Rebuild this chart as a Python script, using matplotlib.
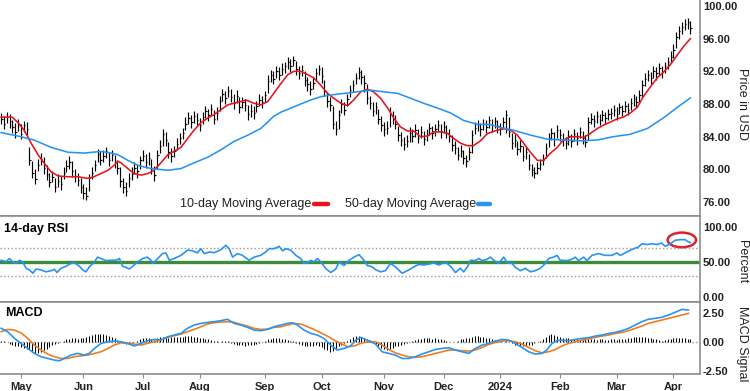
#!/usr/bin/env python
# -*- coding: utf-8 -*-

'''
Daily price bars with 10/50-day moving averages, 14-day RSI and MACD panels
'''

import numpy as np
import pandas as pd
import matplotlib
matplotlib.use('Agg')
import matplotlib.pyplot as plt
from matplotlib.patches import Ellipse

plt.rcParams['font.family'] = ['Liberation Sans', 'DejaVu Sans']

# trading days (weekdays minus US market holidays)
first_day = '2023-04-20'
last_day = '2024-04-09'
holidays = ['2023-05-29', '2023-06-19', '2023-07-04', '2023-09-04',
            '2023-11-23', '2023-12-25', '2024-01-01', '2024-01-15',
            '2024-02-19', '2024-03-29']
month_labels = ['May', 'Jun', 'Jul', 'Aug', 'Sep', 'Oct', 'Nov', 'Dec',
                '2024', 'Feb', 'Mar', 'Apr']

# price bars, one per trading day
close = [
    86.2, 85.6, 86.4, 85.9, 85.2, 84.6, 85.5, 84.3, 85.4, 84.9,
    81.2, 79.6, 78.8, 80.6, 81.3, 80.2, 79.4, 78.5, 79.1, 77.9,
    78.6, 78.2, 79.6, 80.4, 80.9, 79.8, 79.2, 78.7, 77.8, 77.1,
    76.8, 78.9, 79.6, 80.6, 81.9, 81.2, 81.6, 82.2, 81.1, 81.8,
    80.9, 80.2, 78.6, 77.8, 77.3, 78.9, 79.5, 80.2, 79.8, 81.1,
    81.7, 80.9, 81.4, 80.2, 79.3, 81.8, 82.9, 84.3, 83.6, 82.1,
    81.6, 82.3, 83.1, 83.8, 84.4, 85.6, 86.3, 85.8, 86.5, 86.1,
    85.4, 86.4, 87.1, 86.6, 87.4, 86.2, 86.9, 88.4, 89.2, 88.7,
    89.6, 88.9, 88.1, 89.0, 87.6, 88.3, 87.9, 86.8, 87.2, 86.9,
    87.8, 88.5, 88.2, 89.1, 90.8, 91.5, 91.1, 92.0, 91.6, 92.3,
    92.6, 93.1, 92.7, 93.4, 92.3, 91.8, 92.2, 91.0, 90.4, 89.9,
    90.6, 91.8, 92.3, 91.4, 89.6, 88.4, 87.9, 85.6, 84.9, 86.7,
    88.0, 87.3, 88.6, 89.7, 90.3, 91.2, 91.9, 91.3, 90.6, 88.7,
    88.1, 87.2, 87.6, 86.2, 85.4, 84.9, 85.1, 86.8, 86.2, 85.6,
    84.2, 83.6, 83.1, 83.5, 84.5, 84.1, 84.8, 83.9, 84.6, 83.7,
    84.2, 85.1, 84.4, 84.9, 85.4, 84.7, 85.2, 84.5, 84.1, 83.0,
    82.6, 81.8, 82.3, 81.4, 81.0, 82.1, 84.2, 85.1, 85.5, 84.9,
    85.6, 85.2, 86.0, 85.4, 85.9, 85.3, 84.9, 85.8, 86.7, 84.6,
    83.2, 83.6, 82.5, 82.9, 81.7, 82.1, 80.6, 79.9, 79.6, 80.2,
    80.7, 81.2, 82.6, 83.8, 84.4, 83.7, 84.8, 84.2, 83.6, 83.2,
    84.1, 83.5, 84.3, 83.8, 84.6, 83.9, 83.4, 85.8, 86.2, 85.9,
    86.5, 86.1, 86.7, 86.3, 86.8, 86.9, 87.3, 86.8, 87.6, 87.2,
    87.8, 87.3, 88.1, 88.6, 88.2, 89.1, 90.3, 91.1, 91.6, 91.2,
    92.0, 91.8, 92.4, 91.9, 92.6, 93.2, 93.8, 94.6, 96.2, 96.9,
    97.4, 97.8, 98.0, 97.3,
]
high = [
    86.9, 86.5, 87.0, 86.8, 86.1, 85.7, 86.2, 85.6, 85.9, 85.8,
    82.8, 81.0, 80.1, 81.3, 82.0, 81.5, 80.6, 79.6, 79.8, 79.0,
    79.5, 79.2, 80.3, 81.2, 81.6, 81.0, 80.0, 79.6, 78.9, 78.2,
    77.9, 79.4, 80.3, 81.2, 82.5, 82.3, 82.4, 82.8, 82.1, 82.4,
    81.8, 81.2, 80.3, 78.9, 78.4, 79.6, 80.3, 80.9, 80.7, 81.7,
    82.4, 81.9, 82.1, 81.3, 80.4, 82.4, 83.6, 85.0, 84.6, 83.3,
    82.6, 82.9, 83.8, 84.5, 85.1, 86.4, 87.0, 86.7, 87.1, 86.9,
    86.3, 87.0, 87.8, 87.4, 88.0, 87.3, 87.6, 89.0, 89.9, 89.6,
    90.2, 89.8, 89.2, 89.7, 88.9, 88.9, 88.6, 87.9, 88.0, 87.7,
    88.4, 89.2, 89.0, 89.6, 91.5, 92.2, 92.0, 92.6, 92.5, 93.0,
    93.2, 93.7, 93.5, 93.9, 93.3, 92.6, 92.8, 92.1, 91.3, 90.8,
    91.3, 92.4, 92.8, 92.5, 91.0, 89.5, 88.8, 87.7, 85.9, 87.3,
    88.6, 88.3, 89.2, 90.3, 91.0, 91.8, 92.5, 92.2, 91.5, 90.4,
    89.0, 88.3, 88.3, 87.4, 86.5, 85.8, 85.9, 87.6, 87.2, 86.6,
    85.3, 84.6, 84.0, 84.2, 85.2, 85.0, 85.5, 84.9, 85.3, 84.7,
    84.9, 85.7, 85.3, 85.6, 86.1, 85.5, 85.9, 85.4, 85.0, 84.2,
    83.5, 82.8, 83.0, 82.4, 81.8, 82.8, 84.8, 85.8, 86.1, 85.7,
    86.2, 86.0, 86.5, 86.2, 86.4, 86.1, 85.7, 86.4, 87.3, 86.4,
    84.4, 84.3, 83.5, 83.6, 82.9, 82.8, 81.9, 80.7, 80.3, 80.9,
    81.3, 81.9, 83.2, 84.5, 85.1, 84.6, 85.4, 85.0, 84.4, 84.0,
    84.8, 84.3, 84.9, 84.6, 85.2, 84.7, 84.2, 86.4, 86.9, 86.6,
    87.1, 86.8, 87.3, 87.0, 87.4, 87.5, 87.9, 87.6, 88.1, 87.9,
    88.4, 88.1, 88.7, 89.2, 89.0, 89.7, 91.0, 91.8, 92.2, 91.9,
    92.6, 92.5, 93.0, 92.6, 93.2, 93.8, 94.5, 95.4, 96.8, 97.5,
    98.0, 98.4, 98.5, 98.2,
]
low = [
    85.5, 85.0, 85.7, 85.1, 84.5, 83.9, 84.7, 83.7, 84.6, 84.2,
    80.6, 79.0, 78.2, 79.8, 80.5, 79.5, 78.7, 77.8, 78.4, 77.2,
    77.9, 77.5, 78.8, 79.7, 80.1, 79.1, 78.5, 78.0, 77.1, 76.4,
    76.2, 77.4, 78.8, 79.8, 80.9, 80.5, 80.9, 81.4, 80.4, 81.0,
    80.2, 79.5, 77.9, 77.1, 76.7, 77.8, 78.7, 79.4, 79.0, 80.1,
    81.0, 80.2, 80.6, 79.5, 78.6, 80.0, 82.0, 82.9, 82.9, 81.4,
    80.9, 81.5, 82.4, 83.1, 83.7, 84.8, 85.6, 85.1, 85.7, 85.4,
    84.7, 85.5, 86.3, 85.9, 86.6, 85.5, 86.1, 87.2, 88.4, 88.0,
    88.8, 88.2, 87.4, 88.1, 86.9, 87.5, 87.2, 86.1, 86.4, 86.2,
    87.0, 87.8, 87.5, 88.3, 89.3, 90.7, 90.4, 91.2, 90.9, 91.5,
    91.8, 92.3, 91.9, 92.6, 91.6, 91.1, 91.4, 90.2, 89.6, 89.1,
    89.8, 90.8, 91.6, 90.6, 89.0, 87.6, 87.1, 84.9, 84.2, 85.0,
    86.9, 86.6, 87.8, 88.9, 89.5, 90.4, 91.1, 90.5, 89.5, 88.0,
    87.4, 86.5, 86.8, 85.5, 84.7, 84.1, 84.3, 85.2, 85.5, 84.9,
    83.5, 82.9, 82.4, 82.7, 83.3, 83.4, 84.0, 83.2, 83.8, 83.0,
    83.5, 84.2, 83.7, 84.1, 84.6, 83.9, 84.4, 83.8, 83.3, 82.3,
    81.9, 81.1, 81.5, 80.7, 80.3, 81.2, 82.0, 84.3, 84.7, 84.1,
    84.8, 84.4, 85.1, 84.6, 85.1, 84.5, 84.2, 84.9, 84.5, 84.0,
    82.5, 82.7, 81.8, 82.1, 81.0, 81.3, 79.9, 79.2, 78.9, 79.5,
    79.9, 80.5, 81.4, 82.7, 83.6, 82.9, 83.8, 83.5, 82.9, 82.5,
    83.0, 82.8, 83.5, 83.0, 83.8, 83.1, 82.8, 83.6, 85.5, 85.2,
    85.7, 85.4, 85.9, 85.6, 86.0, 86.2, 86.5, 86.1, 86.8, 86.5,
    87.0, 86.6, 87.3, 87.8, 87.5, 88.2, 88.8, 90.2, 90.8, 90.4,
    91.2, 91.0, 91.6, 91.2, 91.8, 92.3, 93.0, 93.6, 94.8, 96.0,
    96.6, 97.0, 97.2, 96.6,
]

# moving averages, read at trading-day positions
ma10_day = [0, 3.9, 6, 8.1, 10.6, 13, 15.1, 17.6, 20.1, 23.6,
            27.1, 30.6, 32.7, 35.2, 37.7, 39.8, 41.2, 42.3, 44.7, 46.8,
            49.3, 51.8, 53.9, 56.3, 58.8, 60.9, 63.4, 65.8, 68, 70.4,
            72.9, 75, 77.5, 79.9, 82, 84.5, 86.3, 89.1, 91.5, 94,
            96.1, 98.6, 101.1, 103.2, 105.6, 108.1, 110.2, 112.7, 115.1, 117.3,
            119.7, 122.2, 124.3, 126.8, 129.2, 131.3, 133.8, 136.3, 138.4, 140.8,
            143.3, 145.4, 147.9, 150.4, 152.5, 154.9, 157.4, 159.5, 162, 164.4,
            166.5, 169, 171.5, 175, 177.1, 179.6, 182, 184.2, 186.6, 189.1,
            191.2, 193.7, 196.1, 198.2, 200.7, 203.2, 205.3, 207.7, 210.2, 212.3,
            214.8, 217.3, 219.4, 221.8, 224.3, 226.4, 228.9, 231.3, 233.5, 235.9,
            238.4, 240.5, 243]
ma10 = [86.4, 86.4, 85.7, 84.8, 83.2, 81.8, 80.8, 79.7, 79.2, 79.1,
        79.1, 78.9, 79.1, 79.5, 79.9, 80.5, 81.0, 80.8, 80.1, 79.5,
        79.3, 79.5, 79.9, 80.8, 81.8, 82.2, 82.7, 83.8, 84.8, 85.7,
        86.3, 86.7, 87.3, 87.9, 88.1, 88.3, 88.5, 88.1, 87.9, 88.3,
        89.3, 90.5, 91.6, 92.0, 92.0, 91.6, 91.2, 90.3, 89.3, 88.7,
        88.1, 87.8, 88.5, 89.5, 89.8, 89.5, 88.7, 87.5, 86.3, 85.2,
        84.7, 84.7, 84.0, 84.1, 84.6, 84.6, 84.4, 83.8, 83.2, 82.9,
        82.9, 83.5, 84.4, 84.8, 85.0, 84.8, 84.2, 83.2, 82.1, 81.1,
        81.1, 82.0, 82.7, 83.6, 84.0, 84.0, 83.9, 84.4, 85.0, 85.4,
        85.8, 86.2, 86.4, 86.9, 87.6, 88.9, 90.1, 91.2, 91.9, 92.8,
        94.0, 95.0, 96.0]
ma50_day = [0, 7, 11.6, 17.6, 23.6, 29.2, 35.2, 38.7, 41.2, 44.7,
            48.2, 52.8, 58.8, 63.4, 68, 72.9, 77.5, 82, 87, 91.5,
            94, 96.1, 98.6, 102.1, 105.6, 109.2, 112.7, 116.2, 120.8, 125.7,
            130.3, 134.9, 139.8, 144.4, 148.9, 153.9, 158.5, 163, 168, 172.5,
            175, 180.6, 186.6, 192.6, 198.2, 204.2, 210.2, 215.8, 221.8, 227.8,
            233.5, 238.4, 243]
ma50 = [84.5, 84.0, 83.6, 82.7, 82.1, 82.0, 82.2, 82.0, 81.8, 81.1,
        80.5, 80.1, 79.9, 80.1, 80.8, 81.5, 82.4, 83.4, 84.2, 85.0,
        85.8, 86.5, 87.0, 87.5, 88.0, 88.5, 88.9, 89.1, 89.3, 89.5,
        89.7, 89.5, 89.3, 88.7, 88.1, 87.5, 86.9, 86.0, 85.5, 85.5,
        85.2, 84.8, 84.2, 83.7, 83.6, 83.5, 83.6, 84.0, 84.3, 85.0,
        86.3, 87.6, 88.75]

# 14-day RSI
rsi_day = [0, 1.8, 2.9, 4.1, 5.3, 6.5, 7.6, 8.8, 10.0, 11.2,
           12.3, 14.1, 15.8, 17.6, 18.8, 19.7, 21.1, 22.9, 24.6, 25.8,
           27.6, 28.8, 29.9, 31.1, 32.9, 34.0, 35.2, 37.0, 38.7, 40.5,
           41.7, 42.8, 44.0, 45.2, 46.4, 48.1, 49.9, 51.6, 52.8, 53.6,
           55.2, 56.9, 58.1, 59.3, 61.0, 63.4, 65.7, 67.5, 69.2, 70.4,
           71.6, 73.4, 75.1, 77.5, 79.2, 80.4, 81.6, 83.3, 85.1, 87.4,
           89.2, 91.5, 93.3, 94.5, 96.2, 98.0, 99.2, 100.4, 102.1, 103.9,
           105.6, 106.8, 108.0, 109.2, 110.3, 111.5, 112.7, 114.4, 116.2, 118.0,
           119.1, 120.9, 122.7, 124.4, 126.2, 127.9, 129.1, 130.9, 132.0, 133.8,
           135.5, 137.3, 139.0, 141.4, 143.7, 145.5, 147.3, 149.0, 150.8, 152.5,
           154.3, 156.6, 158.4, 160.2, 161.9, 163.1, 164.3, 165.5, 167.2, 168.4,
           169.6, 171.3, 172.5, 173.7, 175.4, 177.2, 178.4, 180.1, 181.3, 183.1,
           184.8, 186.6, 188.3, 190.1, 191.9, 193.0, 194.8, 196.0, 197.1, 199.5,
           201.2, 202.4, 203.6, 205.4, 206.5, 208.3, 210.6, 213.0, 215.3, 217.1,
           218.3, 220.6, 223.0, 224.7, 225.9, 227.7, 229.4, 231.2, 232.9, 234.1,
           235.9, 237.6, 239.4, 241.2, 242.3, 243]
rsi = [52.5, 50.5, 55, 50, 48, 52.5, 50, 41, 38.6, 34,
       40, 38.6, 36, 37.6, 39.5, 35, 41, 44, 48, 49,
       44, 38.6, 36, 43, 50, 57, 55, 52, 52.5, 52.5,
       55, 44, 42.4, 40, 44, 50, 55, 57, 52.5, 48,
       55, 62, 62.9, 52.5, 55, 59.5, 67, 66, 63, 69,
       62, 64.3, 63.3, 67.6, 73.8, 69, 57, 62, 59.5, 52.5,
       57, 59.5, 64.3, 69, 69, 72.4, 66, 69, 67, 59.5,
       55, 48, 49, 52.5, 50, 55, 50, 41, 35, 40,
       50, 45, 52.5, 57, 60.5, 52.5, 45, 43, 39, 36,
       37.6, 48, 43, 34, 38.6, 43, 46.7, 45.7, 47, 49,
       45.7, 50, 44, 35, 41, 36, 42.4, 52.5, 52, 55,
       52, 53.8, 57, 52.5, 48, 57, 49, 48, 42.4, 37.6,
       41, 36, 37.6, 41, 48, 55, 57, 59.5, 52.5, 52,
       53.8, 57, 52, 57, 52, 59.5, 62, 59.5, 59.5, 63,
       59.5, 64.3, 69, 71.4, 76, 75, 76, 75, 77, 72.4,
       76, 81, 81.9, 81.9, 78.6, 78]

# MACD line and signal line
macd_day = [0, 2.3, 4.7, 7.0, 9.4, 11.7, 14.1, 16.4, 18.8, 20.5,
            22.3, 24.6, 27.0, 29.3, 31.1, 32.9, 35.2, 37.6, 39.9, 42.3,
            44.6, 46.9, 49.3, 51.6, 54.0, 56.3, 58.7, 61.0, 63.4, 65.7,
            68.1, 70.4, 72.8, 75.1, 77.5, 79.8, 82.2, 84.5, 86.9, 89.2,
            91.5, 93.9, 96.2, 98.6, 100.9, 102.7, 104.5, 106.8, 109.2, 111.5,
            113.8, 116.2, 118.5, 120.9, 123.2, 125.0, 126.8, 129.1, 132.0, 134.3,
            136.7, 139.0, 141.4, 143.7, 146.1, 148.4, 150.8, 153.1, 155.5, 157.8,
            160.2, 162.5, 164.9, 167.2, 169.6, 171.9, 174.3, 176.6, 178.9, 181.3,
            183.6, 186.0, 188.3, 190.7, 192.4, 194.2, 196.0, 197.7, 200.1, 202.4,
            204.8, 207.1, 209.5, 211.8, 214.2, 216.5, 218.9, 221.2, 223.5, 225.9,
            228.2, 230.6, 232.9, 235.3, 237.6, 240.0, 242.3]
macd = [1.17, 0.87, 0.29, -0.14, -0.58, -1.01, -1.3, -1.45, -1.59, -1.65,
        -1.45, -1.16, -1.01, -1.16, -1.01, -0.58, -0.14, 0.0, 0.06, 0.0,
        -0.14, -0.37, -0.14, 0.09, 0.2, 0.14, 0.43, 0.58, 0.72, 1.17,
        1.45, 1.59, 1.68, 1.74, 1.83, 1.95, 1.59, 1.45, 1.25, 1.01,
        0.96, 1.07, 1.3, 1.45, 1.59, 1.65, 1.45, 1.01, 0.72, 0.58,
        0.29, -0.29, -0.72, -0.58, -0.37, 0.14, 0.38, 0.14, -0.2, -0.87,
        -1.01, -1.16, -1.45, -1.45, -1.3, -1.07, -0.87, -0.67, -0.58, -0.52,
        -0.72, -0.87, -1.01, -0.58, -0.29, -0.14, 0.06, 0.2, 0.14, -0.14,
        -0.49, -0.87, -1.07, -1.01, -0.72, -0.14, 0.09, 0.14, 0.09, 0.2,
        0.29, 0.35, 0.49, 0.58, 0.72, 0.81, 0.96, 1.16, 1.45, 1.74,
        1.95, 2.03, 2.12, 2.32, 2.55, 2.81, 2.75]
signal_day = [0, 2.3, 4.7, 7.0, 9.4, 11.7, 14.1, 16.4, 18.8, 21.1,
              23.5, 25.8, 28.2, 30.5, 32.9, 35.2, 37.6, 39.9, 42.3, 44.6,
              46.9, 49.3, 51.6, 54.0, 56.3, 58.7, 61.0, 63.4, 65.7, 68.1,
              70.4, 72.8, 75.1, 77.5, 79.8, 82.2, 84.5, 86.9, 89.2, 91.5,
              93.9, 96.2, 98.6, 100.9, 103.3, 105.6, 108.0, 110.3, 112.7, 115.0,
              117.4, 119.7, 122.1, 124.4, 126.8, 129.1, 132.0, 134.3, 136.7, 139.0,
              141.4, 143.7, 146.1, 148.4, 150.8, 153.1, 155.5, 157.8, 160.2, 162.5,
              164.9, 167.2, 169.6, 171.9, 174.3, 176.6, 178.9, 181.3, 183.6, 186.0,
              188.3, 190.7, 193.0, 195.4, 197.7, 200.1, 202.4, 204.8, 207.1, 209.5,
              211.8, 214.2, 216.5, 218.9, 221.2, 223.5, 225.9, 228.2, 230.6, 232.9,
              235.3, 237.6, 240.0, 242.3]
signal = [0.87, 1.07, 1.01, 0.78, 0.29, -0.29, -0.72, -1.07, -1.3, -1.45,
          -1.45, -1.3, -1.22, -1.16, -1.01, -0.87, -0.58, -0.29, -0.09, -0.14,
          -0.2, -0.29, -0.14, 0.0, 0.14, 0.38, 0.52, 0.67, 0.87, 1.07,
          1.3, 1.54, 1.65, 1.71, 1.74, 1.68, 1.51, 1.36, 1.16, 1.07,
          1.1, 1.25, 1.3, 1.45, 1.59, 1.54, 1.3, 1.07, 0.78, 0.49,
          0.14, -0.14, -0.43, -0.37, -0.14, 0.0, 0.0, -0.29, -0.67, -0.96,
          -1.16, -1.3, -1.36, -1.3, -1.16, -1.01, -0.87, -0.72, -0.72, -0.78,
          -0.81, -0.72, -0.49, -0.23, -0.06, 0.06, 0.09, 0.0, -0.2, -0.49,
          -0.78, -0.96, -0.87, -0.67, -0.37, -0.14, 0.0, 0.14, 0.23, 0.38,
          0.49, 0.58, 0.72, 0.81, 0.96, 1.16, 1.36, 1.59, 1.74, 1.88,
          2.03, 2.17, 2.32, 2.46]

# MACD histogram, one per trading day
hist = [
    0.1, 0.05, -0.05,
    -0.2, -0.3, -0.35, -0.4, -0.45,
    -0.55, -0.65, -0.75, -0.85,
    -0.95, -1.0, -0.9, -0.75,
    -0.6, -0.45, -0.3, -0.2, -0.1,
    0.0, 0.1, 0.2,
    0.25, 0.3, 0.3, 0.25, 0.3, 0.35, 0.4,
    0.5, 0.6, 0.65, 0.7, 0.7, 0.65, 0.6, 0.5, 0.4,
    0.3, 0.15, 0.0, -0.1, -0.2, -0.2,
    -0.15, -0.05, 0.1, 0.2,
    0.3, 0.35, 0.3, 0.2, 0.15, 0.3, 0.4, 0.45, 0.4,
    0.35, 0.4, 0.45, 0.45, 0.4, 0.45, 0.5,
    0.5, 0.5, 0.45, 0.4, 0.35, 0.3, 0.25,
    0.2, 0.15, 0.1, 0.05, 0.0, 0.05, 0.1, 0.05,
    -0.1, -0.2, -0.25, -0.3, -0.3, -0.35, -0.3, -0.3, -0.25, -0.2, -0.1, 0.0,
    0.1, 0.2, 0.25, 0.3, 0.3, 0.3, 0.25, 0.2, 0.15, 0.1, 0.05,
    -0.1, -0.2, -0.3, -0.35, -0.4, -0.4, -0.35, -0.3, -0.35, -0.45,
    -0.6, -0.75, -0.85, -0.8, -0.6, -0.4, -0.25,
    -0.1, 0.1, 0.25, 0.4, 0.5, 0.5, 0.45, 0.35, 0.25, 0.15, 0.0,
    -0.2, -0.4, -0.55, -0.65, -0.7, -0.6, -0.5, -0.4,
    -0.35, -0.3, -0.2, -0.1, 0.0, 0.1, 0.15,
    0.2, 0.25, 0.3, 0.3, 0.3, 0.25, 0.3, 0.25, 0.2,
    0.15, 0.1, 0.0, -0.05, 0.0, 0.1, 0.2, 0.25, 0.3,
    0.35, 0.45, 0.5, 0.5, 0.45, 0.4, 0.35, 0.3, 0.2, 0.15,
    0.1, 0.05, 0.0, 0.05, -0.05, -0.15, -0.25,
    -0.3, -0.35, -0.4, -0.35, -0.3, -0.25, -0.15, -0.05, 0.1, 0.25,
    0.45, 0.6, 0.65, 0.6, 0.5, 0.4, 0.35,
    0.3, 0.3, 0.25, 0.2, 0.2, 0.15, 0.15,
    0.2, 0.25, 0.2, 0.2, 0.15, 0.2, 0.2, 0.15, 0.15, 0.2, 0.2, 0.15, 0.2, 0.25, 0.25,
    0.3, 0.35, 0.4, 0.4, 0.45, 0.45, 0.4, 0.35, 0.3, 0.25, 0.2,
    0.15, 0.1, 0.15, 0.2, 0.25, 0.3, 0.35, 0.35, 0.3, 0.3, 0.25, 0.2,
]

RED = '#e8141c'
BLUE = '#2894f2'
ORANGE = '#f07d1e'
GREEN = '#3c8c3c'
FRAME = '#8c8c8c'


def trading_days():
    days = pd.bdate_range(first_day, last_day)
    return days[~days.isin(pd.to_datetime(holidays))]


def style_panel(ax, top=True):
    ax.spines['left'].set_visible(False)
    ax.spines['top'].set_visible(top)
    for s in ['top', 'right', 'bottom']:
        ax.spines[s].set_color(FRAME)
        ax.spines[s].set_linewidth(1.2)
    ax.yaxis.tick_right()
    ax.tick_params(axis='y', length=0, pad=2, labelsize=8,
                   labelcolor='#222222')
    for lab in ax.get_yticklabels():
        lab.set_fontweight('bold')
    ax.tick_params(axis='x', bottom=False, labelbottom=False)


def plot():
    days = trading_days()
    x = np.arange(len(days))
    assert len(x) == len(close) == len(high) == len(low) == len(hist)

    fig = plt.figure(figsize=(7.5, 3.91), dpi=100)
    ax1 = fig.add_axes([0, 175 / 391, 700 / 750, 216 / 391])
    ax2 = fig.add_axes([0, 89 / 391, 700 / 750, 86 / 391], sharex=ax1)
    ax3 = fig.add_axes([0, 17 / 391, 700 / 750, 72 / 391], sharex=ax1)

    # price panel
    ax1.vlines(x, low, high, color='black', linewidth=0.85)
    ax1.hlines(close, x, x + 0.5, color='black', linewidth=0.85)
    ax1.plot(ma10_day, ma10, color=RED, linewidth=1.15)
    ax1.plot(ma50_day, ma50, color=BLUE, linewidth=1.15)
    ax1.set_ylim(74.3, 100.73)
    ax1.set_yticks([76, 80, 84, 88, 92, 96, 100])
    ax1.set_yticklabels(['{:.2f}'.format(v) for v in [76, 80, 84, 88, 92, 96, 100]])
    style_panel(ax1, top=False)
    ax1.text(1.06, 0.52, 'Price in USD', rotation=270, ha='center',
             va='center', fontsize=9, color='#222222', transform=ax1.transAxes)
    # legend: text followed by a short line
    ax1.text(0.257, 0.056, '10-day Moving Average', fontsize=9, ha='left',
             va='center', color='#222222', transform=ax1.transAxes)
    ax1.plot([0.449, 0.468], [0.056, 0.056], color=RED, linewidth=3.2,
             solid_capstyle='round', transform=ax1.transAxes)
    ax1.text(0.493, 0.056, '50-day Moving Average', fontsize=9, ha='left',
             va='center', color='#222222', transform=ax1.transAxes)
    ax1.plot([0.683, 0.700], [0.056, 0.056], color=BLUE, linewidth=3.2,
             solid_capstyle='round', transform=ax1.transAxes)

    # RSI panel
    ax2.axhline(70, color='#9a9a9a', linestyle=':', linewidth=1)
    ax2.axhline(30, color='#9a9a9a', linestyle=':', linewidth=1)
    ax2.axhline(50, color=GREEN, linewidth=2.4)
    ax2.plot(rsi_day, rsi, color=BLUE, linewidth=1.2)
    ax2.add_patch(Ellipse((240, 81.5), 10, 21, fill=False,
                          edgecolor='#e0202a', linewidth=1.8))
    ax2.set_ylim(-7.1, 115.7)
    ax2.set_yticks([0, 50, 100])
    ax2.set_yticklabels(['0.00', '50.00', '100.00'])
    style_panel(ax2)
    ax2.text(0.005, 0.85, '14-day RSI', fontsize=9, fontweight='bold',
             ha='left', va='center', transform=ax2.transAxes)
    ax2.text(1.06, 0.465, 'Percent', rotation=270, ha='center', va='center',
             fontsize=9, color='#222222', transform=ax2.transAxes)

    # MACD panel
    ax3.axhline(0, color='#9a9a9a', linestyle=':', linewidth=1)
    ax3.vlines(x, 0, hist, color='black', linewidth=0.75)
    ax3.plot(signal_day, signal, color=ORANGE, linewidth=1.2)
    ax3.plot(macd_day, macd, color=BLUE, linewidth=1.2)
    ax3.set_ylim(-2.8, 3.45)
    ax3.set_yticks([-2.5, 0, 2.5])
    ax3.set_yticklabels(['-2.50', '0.00', '2.50'])
    style_panel(ax3)
    ax3.text(0.007, 0.845, 'MACD', fontsize=9, fontweight='bold',
             ha='left', va='center', transform=ax3.transAxes)
    ax3.text(1.06, 0.42, 'MACD Signal', rotation=270, ha='center',
             va='center', fontsize=9, color='#222222', transform=ax3.transAxes)

    # month ticks at the first trading day of each month
    starts = [i for i in range(1, len(days)) if days[i].month != days[i - 1].month]
    ax3.set_xticks(starts)
    ax3.set_xticklabels(month_labels, fontsize=8, fontweight='bold',
                        color='#222222')
    ax3.tick_params(axis='x', bottom=True, labelbottom=True, length=3,
                    color=FRAME, pad=3)
    ax3.set_xlim(-0.4, 246.4)

    fig.savefig('out.png', dpi=100)


if __name__ == '__main__':
    plot()
